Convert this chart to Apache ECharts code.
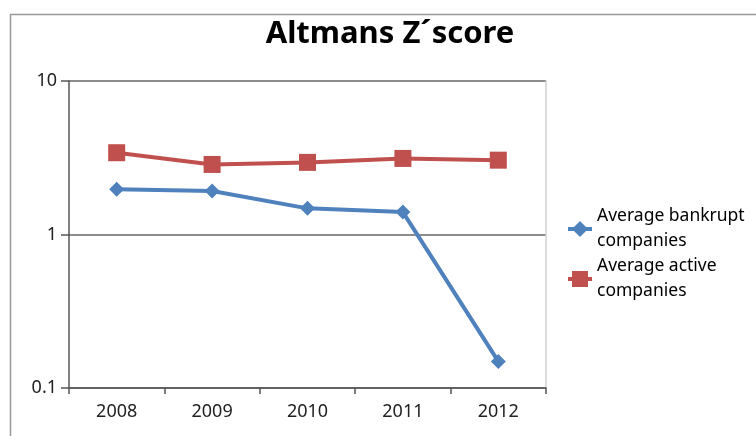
<!DOCTYPE html>
<html>
<head>
<meta charset="utf-8">
<script src="https://cdn.jsdelivr.net/npm/echarts@6/dist/echarts.min.js"></script>
<style>
  html, body { margin: 0; padding: 0; background: #fff; }
  #chart { width: 756px; height: 436px; }
</style>
</head>
<body>
<div id="chart"></div>
<script>
const years = ['2008', '2009', '2010', '2011', '2012'];
const bankrupt = [1.97, 1.92, 1.48, 1.40, 0.149];
const active = [3.41, 2.86, 2.95, 3.13, 3.05];

const font = '"Noto Sans", "Open Sans", sans-serif';

const chart = echarts.init(document.getElementById('chart'));

chart.setOption({
  backgroundColor: '#fff',
  animation: false,
  textStyle: { fontFamily: font },
  title: {
    text: 'Altmans Z\u00B4score',
    left: 385,
    textAlign: 'center',
    top: 14,
    textStyle: { fontFamily: font, fontSize: 31, fontWeight: 'bold', color: '#000' }
  },
  graphic: [{
    type: 'rect',
    shape: { x: 10.5, y: 14.5, width: 800, height: 500 },
    style: { fill: 'none', stroke: '#999', lineWidth: 1.5 },
    silent: true
  }],
  legend: {
    orient: 'vertical',
    left: 566,
    top: 204,
    padding: 0,
    itemGap: 0,
    itemWidth: 24,
    itemHeight: 20,
    lineStyle: { width: 4 },
    textStyle: { fontFamily: font, fontSize: 17.5, lineHeight: 25, color: '#000' },
    data: ['Average bankrupt\ncompanies', 'Average active\ncompanies']
  },
  grid: { left: 69, right: 210, top: 81, bottom: 48 },
  xAxis: {
    type: 'category',
    data: years,
    boundaryGap: true,
    axisLine: { lineStyle: { color: '#555', width: 1.5 } },
    axisTick: { show: true, length: 6, lineStyle: { color: '#555', width: 1.5 } },
    axisLabel: { color: '#222', fontSize: 18, margin: 15, fontFamily: font },
    splitLine: { show: false }
  },
  yAxis: [{
    type: 'log',
    logBase: 10,
    min: 0.1,
    max: 10,
    axisLine: { show: true, lineStyle: { color: '#555', width: 1.5 } },
    axisTick: { show: true, length: 8, lineStyle: { color: '#555', width: 1.5 } },
    axisLabel: {
      color: '#222', fontSize: 18, margin: 12, fontFamily: font,
      formatter: v => (v < 1 ? v.toFixed(1) : String(Math.round(v)))
    },
    splitLine: { show: true, lineStyle: { color: '#666', width: 1.5 } }
  }, {
    type: 'value',
    position: 'right',
    min: 0,
    max: 1,
    axisLine: { show: true, lineStyle: { color: '#d0d0d0', width: 1.5 } },
    axisTick: { show: false },
    axisLabel: { show: false },
    splitLine: { show: false }
  }],
  series: [{
    name: 'Average bankrupt\ncompanies',
    type: 'line',
    data: bankrupt,
    symbol: 'diamond',
    symbolSize: 15,
    lineStyle: { width: 4, color: '#4F81BD' },
    itemStyle: { color: '#4F81BD' }
  }, {
    name: 'Average active\ncompanies',
    type: 'line',
    data: active,
    symbol: 'rect',
    symbolSize: 17,
    lineStyle: { width: 4, color: '#C0504D' },
    itemStyle: { color: '#C0504D' }
  }]
});
</script>
</body>
</html>
